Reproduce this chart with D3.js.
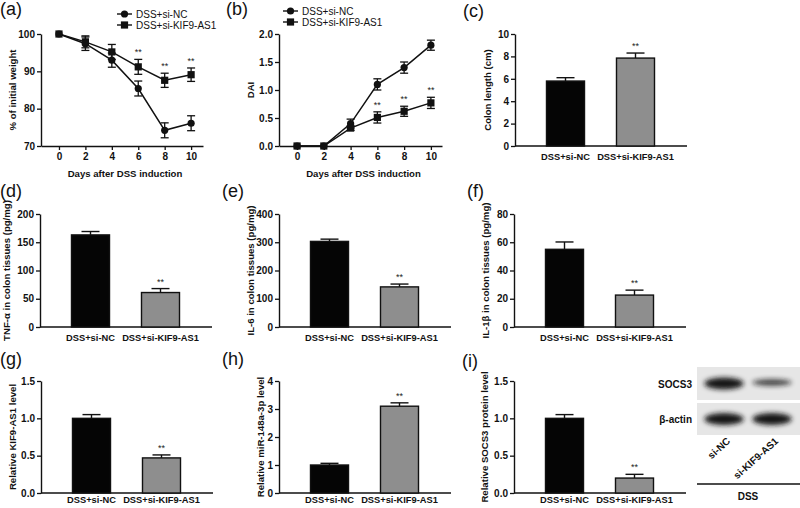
<!DOCTYPE html>
<html>
<head>
<meta charset="utf-8">
<script src="https://cdn.jsdelivr.net/npm/d3@7"></script>
<style>
  body { margin: 0; background: #fff; }
  text { font-family: "Liberation Sans", Arial, sans-serif; }
</style>
</head>
<body>
<div id="fig"></div>
<script>

var days = [0, 2, 4, 6, 8, 10]
var weightNC = [100, 97.4, 93, 85.4, 74.2, 76.1]
var weightNCErr = [0, 1.8, 1.9, 2, 2, 2]
var weightKIF = [100, 97.9, 95.2, 91.2, 87.6, 89.1]
var weightKIFErr = [0, 1.6, 2, 2, 1.9, 1.8]
var weightTicks = [70, 80, 90, 100]

var daiNC = [0, 0, 0.4, 1.1, 1.4, 1.8]
var daiNCErr = [0, 0, 0.08, 0.1, 0.1, 0.09]
var daiKIF = [0, 0, 0.32, 0.51, 0.62, 0.77]
var daiKIFErr = [0, 0, 0.04, 0.1, 0.09, 0.1]
var daiTicks = [0, 0.5, 1, 1.5, 2]
var starDays = [6, 8, 10]

var groups = ["DSS+si-NC", "DSS+si-KIF9-AS1"]
var colonLength = [5.8, 7.85]
var colonErr = [0.3, 0.45]
var tnf = [163, 61]
var tnfErr = [6, 7]
var il6 = [303, 142]
var il6Err = [8, 10]
var il1b = [55, 22.6]
var il1bErr = [5.2, 3.5]
var kif9 = [1.0, 0.47]
var kif9Err = [0.05, 0.04]
var mir = [1.0, 3.1]
var mirErr = [0.06, 0.12]
var socs3 = [1.0, 0.2]
var socs3Err = [0.05, 0.05]

var blotLanes = ["si-NC", "si-KIF9-AS1"]
var socs3Band = [1.0, 0.55]
var actinBand = [1.0, 1.0]

var W = 800, H = 508
var font = "Liberation Sans, Arial, sans-serif"

var svg = d3.select("#fig").append("svg")
  .attr("width", W)
  .attr("height", H)

svg.append("rect").attr("width", W).attr("height", H).attr("fill", "#fff")

var defs = svg.append("defs")
defs.append("filter").attr("id", "blur")
  .attr("x", "-50%").attr("y", "-100%").attr("width", "200%").attr("height", "300%")
  .append("feGaussianBlur").attr("stdDeviation", 2.6)

var rows = [
  {top: 34, bot: 146, lab: 160},
  {top: 214, bot: 327, lab: 341},
  {top: 381, bot: 493, lab: 503}
]

function panelLabel(txt, x, y) {
  svg.append("text")
    .attr("x", x).attr("y", y)
    .attr("font-size", 18)
    .attr("fill", "#111")
    .text(txt)
}

function styleAxis(g) {
  g.select(".domain").attr("stroke", "#111").attr("stroke-width", 1.4)
  g.selectAll(".tick line").attr("stroke", "#111").attr("stroke-width", 1.3)
  g.selectAll(".tick text")
    .attr("font-family", font)
    .attr("font-size", 10)
    .attr("font-weight", "bold")
    .attr("fill", "#111")
}

function yTitle(txt, x, row) {
  svg.append("text")
    .attr("transform", "translate(" + x + "," + ((row.top + row.bot) / 2) + ") rotate(-90)")
    .attr("text-anchor", "middle")
    .attr("font-size", 9.6)
    .attr("font-weight", "bold")
    .attr("fill", "#111")
    .text(txt)
}

function stars(x, y) {
  svg.append("text")
    .attr("x", x).attr("y", y)
    .attr("text-anchor", "middle")
    .attr("font-size", 9)
    .attr("fill", "#222")
    .text("**")
}

function marker(g, shape, x, y) {
  if (shape == "circle") {
    g.append("circle").attr("cx", x).attr("cy", y).attr("r", 3.6).attr("fill", "#111")
  } else {
    g.append("rect").attr("x", x - 3.6).attr("y", y - 3.6)
      .attr("width", 7.2).attr("height", 7.2).attr("fill", "#111")
  }
}

function lineChart(cfg) {
  var row = rows[0]
  var x = d3.scaleLinear().domain(cfg.xDomain).range([cfg.x0, cfg.x1])
  var y = d3.scaleLinear().domain(cfg.yDomain).range([row.bot, row.top])
  var g = svg.append("g")

  var ya = g.append("g").attr("transform", "translate(" + cfg.x0 + ",0)")
    .call(d3.axisLeft(y).tickValues(cfg.yTicks).tickFormat(cfg.fmt)
      .tickSize(4).tickSizeOuter(0).tickPadding(2))
  styleAxis(ya)
  var xa = g.append("g").attr("transform", "translate(0," + row.bot + ")")
    .call(d3.axisBottom(x).tickValues(days).tickFormat(d3.format("d"))
      .tickSize(4).tickSizeOuter(0).tickPadding(3))
  styleAxis(xa)

  cfg.series.forEach(function (s) {
    var pts = days.map(function (d, i) { return {d: d, v: s.vals[i], e: s.errs[i]} })
    g.append("path")
      .datum(pts)
      .attr("fill", "none")
      .attr("stroke", "#111")
      .attr("stroke-width", 1.5)
      .attr("d", d3.line().x(function (p) { return x(p.d) }).y(function (p) { return y(p.v) }))
    pts.forEach(function (p) {
      if (p.e > 0) {
        var eg = g.append("g").attr("stroke", "#111").attr("stroke-width", 1.3)
        eg.append("line").attr("x1", x(p.d)).attr("x2", x(p.d))
          .attr("y1", y(p.v - p.e)).attr("y2", y(p.v + p.e))
        eg.append("line").attr("x1", x(p.d) - 4).attr("x2", x(p.d) + 4)
          .attr("y1", y(p.v - p.e)).attr("y2", y(p.v - p.e))
        eg.append("line").attr("x1", x(p.d) - 4).attr("x2", x(p.d) + 4)
          .attr("y1", y(p.v + p.e)).attr("y2", y(p.v + p.e))
      }
      marker(g, s.shape, x(p.d), y(p.v))
    })
  })

  var st = cfg.series[1]
  starDays.forEach(function (d) {
    var i = days.indexOf(d)
    stars(x(d), y(st.vals[i] + st.errs[i]) - 4)
  })

  // legend
  cfg.series.forEach(function (s, i) {
    var ly = cfg.legY + i * 11
    g.append("line").attr("x1", cfg.legX).attr("x2", cfg.legX + 15)
      .attr("y1", ly).attr("y2", ly).attr("stroke", "#111").attr("stroke-width", 1.4)
    marker(g, s.shape, cfg.legX + 7.5, ly)
    g.append("text").attr("x", cfg.legX + 19).attr("y", ly + 3.5)
      .attr("font-size", 10).attr("fill", "#111").text(s.name)
  })

  g.append("text")
    .attr("x", (cfg.x0 + cfg.x1) / 2 + 3).attr("y", 177)
    .attr("text-anchor", "middle")
    .attr("font-size", 9.6).attr("font-weight", "bold").attr("fill", "#111")
    .text("Days after DSS induction")

  yTitle(cfg.ylabel, cfg.titleX, row)
}

function barChart(cfg) {
  var row = rows[cfg.row]
  var x = d3.scaleBand().domain(groups)
    .range([cfg.x0 + 15.5, cfg.x0 + 155.5])
    .paddingInner(0.457).paddingOuter(0.2285)
  var y = d3.scaleLinear().domain([0, cfg.ticks[cfg.ticks.length - 1]]).range([row.bot, row.top])
  var g = svg.append("g")

  var ya = g.append("g").attr("transform", "translate(" + cfg.x0 + ",0)")
    .call(d3.axisLeft(y).tickValues(cfg.ticks).tickFormat(cfg.fmt)
      .tickSize(4).tickSizeOuter(0).tickPadding(2))
  styleAxis(ya)

  g.append("line")
    .attr("x1", cfg.x0).attr("x2", cfg.x0 + 172)
    .attr("y1", row.bot).attr("y2", row.bot)
    .attr("stroke", "#111").attr("stroke-width", 1.4)

  var data = groups.map(function (k, i) { return {k: k, v: cfg.vals[i], e: cfg.errs[i]} })

  // error bars first so the bar covers the lower part
  data.forEach(function (d) {
    var cx = x(d.k) + x.bandwidth() / 2
    var eg = g.append("g").attr("stroke", "#111").attr("stroke-width", 1.4)
    eg.append("line").attr("x1", cx).attr("x2", cx).attr("y1", y(d.v)).attr("y2", y(d.v + d.e))
    eg.append("line").attr("x1", cx - 9).attr("x2", cx + 9)
      .attr("y1", y(d.v + d.e)).attr("y2", y(d.v + d.e))
  })

  g.selectAll("rect.bar")
    .data(data)
    .enter()
    .append("rect")
    .attr("class", "bar")
    .attr("x", function (d) { return x(d.k) })
    .attr("width", x.bandwidth())
    .attr("y", function (d) { return y(d.v) })
    .attr("height", function (d) { return row.bot - y(d.v) })
    .attr("fill", function (d, i) { return i == 0 ? "#050505" : "#8e8e8e" })
    .attr("stroke", "#111")
    .attr("stroke-width", 1.4)

  stars(x(groups[1]) + x.bandwidth() / 2, y(data[1].v + data[1].e) - 4)

  g.selectAll("text.cat")
    .data(groups)
    .enter()
    .append("text")
    .attr("class", "cat")
    .attr("x", function (d) { return x(d) + x.bandwidth() / 2 })
    .attr("y", row.lab)
    .attr("text-anchor", "middle")
    .attr("font-size", 9.3).attr("font-weight", "bold").attr("fill", "#111")
    .text(function (d) { return d })

  yTitle(cfg.ylabel, cfg.titleX, row)
}

var f0 = d3.format("d"), f1 = d3.format(".1f")

panelLabel("(a)", 0, 15)
lineChart({
  x0: 41, x1: 203, xDomain: [-1.36, 10.9],
  yDomain: [70, 100], yTicks: weightTicks, fmt: f0,
  series: [
    {name: "DSS+si-NC", vals: weightNC, errs: weightNCErr, shape: "circle"},
    {name: "DSS+si-KIF9-AS1", vals: weightKIF, errs: weightKIFErr, shape: "square"}
  ],
  legX: 117, legY: 14, ylabel: "% of initial weight", titleX: 16
})

panelLabel("(b)", 226, 15)
lineChart({
  x0: 279, x1: 442, xDomain: [-1.35, 10.83],
  yDomain: [0, 2], yTicks: daiTicks, fmt: f1,
  series: [
    {name: "DSS+si-NC", vals: daiNC, errs: daiNCErr, shape: "circle"},
    {name: "DSS+si-KIF9-AS1", vals: daiKIF, errs: daiKIFErr, shape: "square"}
  ],
  legX: 283, legY: 11, ylabel: "DAI", titleX: 254
})

panelLabel("(c)", 463, 17)
barChart({row: 0, x0: 515, vals: colonLength, errs: colonErr,
  ticks: [0, 2, 4, 6, 8, 10], fmt: f0, ylabel: "Colon length (cm)", titleX: 491})

panelLabel("(d)", 0, 197)
barChart({row: 1, x0: 40, vals: tnf, errs: tnfErr,
  ticks: [0, 50, 100, 150, 200], fmt: f0, ylabel: "TNF-\u03b1 in colon tissues (pg/mg)", titleX: 10})

panelLabel("(e)", 222, 197)
barChart({row: 1, x0: 279, vals: il6, errs: il6Err,
  ticks: [0, 100, 200, 300, 400], fmt: f0, ylabel: "IL-6 in colon tissues (pg/mg)", titleX: 254})

panelLabel("(f)", 467, 197)
barChart({row: 1, x0: 514, vals: il1b, errs: il1bErr,
  ticks: [0, 20, 40, 60, 80], fmt: f0, ylabel: "IL-1\u03b2 in colon tissues (pg/mg)", titleX: 489})

panelLabel("(g)", 0, 365)
barChart({row: 2, x0: 41, vals: kif9, errs: kif9Err,
  ticks: [0, 0.5, 1, 1.5], fmt: f1, ylabel: "Relative KIF9-AS1 level", titleX: 16})

panelLabel("(h)", 222, 365)
barChart({row: 2, x0: 279, vals: mir, errs: mirErr,
  ticks: [0, 1, 2, 3, 4], fmt: f0, ylabel: "Relative miR-148a-3p level", titleX: 264})

panelLabel("(i)", 462, 367)
barChart({row: 2, x0: 514, vals: socs3, errs: socs3Err,
  ticks: [0, 0.5, 1, 1.5], fmt: f1, ylabel: "Relative SOCS3 protein level", titleX: 488})

// western blot
var blot = svg.append("g")
var lane = d3.scaleBand().domain(blotLanes).range([700, 796]).paddingInner(0.1).paddingOuter(0.05)
var strips = [
  {name: "SOCS3", top: 367, h: 33, lv: socs3Band},
  {name: "\u03b2-actin", top: 403, h: 32, lv: actinBand}
]
strips.forEach(function (s) {
  blot.append("rect").attr("x", 697).attr("y", s.top).attr("width", 103).attr("height", s.h)
    .attr("fill", "#e6e6e6")
  blotLanes.forEach(function (l, i) {
    var cx = lane(l) + lane.bandwidth() / 2
    blot.append("ellipse")
      .attr("cx", cx).attr("cy", s.top + s.h / 2 + (s.name == "SOCS3" && i == 1 ? -1 : 0))
      .attr("rx", lane.bandwidth() / 2 - 2)
      .attr("ry", 6 * s.lv[i])
      .attr("fill", "#151515")
      .attr("opacity", 0.55 + 0.45 * s.lv[i])
      .attr("filter", "url(#blur)")
  })
  blot.append("text").attr("x", 692).attr("y", s.top + s.h / 2 + 4)
    .attr("text-anchor", "end").attr("font-size", 10).attr("font-weight", "bold")
    .attr("fill", "#111").text(s.name)
})
blotLanes.forEach(function (l) {
  var cx = lane(l) + lane.bandwidth() / 2
  blot.append("text")
    .attr("transform", "translate(" + (cx + 7) + ",442) rotate(-42)")
    .attr("text-anchor", "end").attr("font-size", 10).attr("font-weight", "bold")
    .attr("fill", "#111").text(l)
})
blot.append("line").attr("x1", 697).attr("x2", 800).attr("y1", 484).attr("y2", 484)
  .attr("stroke", "#111").attr("stroke-width", 1.6)
blot.append("text").attr("x", 748).attr("y", 500).attr("text-anchor", "middle")
  .attr("font-size", 10).attr("font-weight", "bold").attr("fill", "#111").text("DSS")

</script>
</body>
</html>
